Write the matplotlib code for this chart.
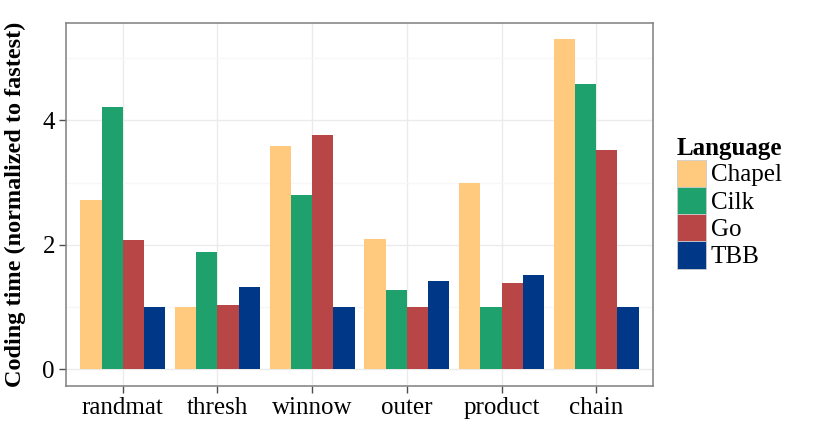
import matplotlib
matplotlib.use("Agg")
import matplotlib.pyplot as plt
from matplotlib.patches import Patch
import numpy as np

categories = ["randmat", "thresh", "winnow", "outer", "product", "chain"]
languages = ["Chapel", "Cilk", "Go", "TBB"]
chapel = [2.72, 1.00, 3.59, 2.09, 3.00, 5.30]
cilk = [4.22, 1.88, 2.80, 1.27, 1.00, 4.59]
go = [2.07, 1.04, 3.77, 1.00, 1.39, 3.52]
tbb = [1.00, 1.32, 1.00, 1.42, 1.52, 1.00]
series = [chapel, cilk, go, tbb]
colors = ["#FFC97E", "#1FA16D", "#B84647", "#013787"]

plt.rcParams['font.family'] = ['Liberation Serif', 'DejaVu Serif']

fig = plt.figure(figsize=(8.3, 4.38), dpi=100)
ax = fig.add_axes([66/830, 1-385.7/438, (653-66)/830, (385.7-23)/438])

x = np.arange(1, len(categories) + 1)
w = 0.225
for i, (vals, c) in enumerate(zip(series, colors)):
    ax.bar(x + (i - 1.5) * w, vals, width=w, color=c, edgecolor='none', zorder=3)

ax.set_xlim(0.4, 6.6)
ax.set_ylim(-0.265, 5.565)
ax.set_xticks(x)
ax.set_xticklabels(categories)
ax.set_yticks([0, 2, 4])
ax.set_yticks([1, 3, 5], minor=True)
ax.grid(which='major', color='#EBEBEB', linewidth=1.0, zorder=0)
ax.grid(which='minor', axis='y', color='#F7F7F7', linewidth=0.9, zorder=0)
ax.set_axisbelow(True)
for s in ax.spines.values():
    s.set_color('#7F7F7F')
    s.set_linewidth(1.1)
ax.tick_params(which='major', length=5, width=1.0, color='#4D4D4D', labelsize=18, pad=3, labelcolor='black')
ax.tick_params(which='minor', length=0)
ax.set_ylabel("Coding time (normalized to fastest)", fontsize=17.5, fontweight='bold')
ax.yaxis.set_label_coords(-0.068, 0.5)

handles = [Patch(facecolor=c, edgecolor='#CCCCCC', linewidth=0.6, label=l) for c, l in zip(colors, languages)]
leg = fig.legend(handles=handles, title="Language", loc='upper left',
                 bbox_to_anchor=(659/830, 1-119/438), frameon=False,
                 fontsize=18, handlelength=1.17, handleheight=1.3,
                 labelspacing=0.0, handletextpad=0.2, borderpad=0.2,
                 title_fontproperties={'weight': 'bold', 'size': 18},
                 alignment='left')

fig.savefig("out.png", dpi=100)
